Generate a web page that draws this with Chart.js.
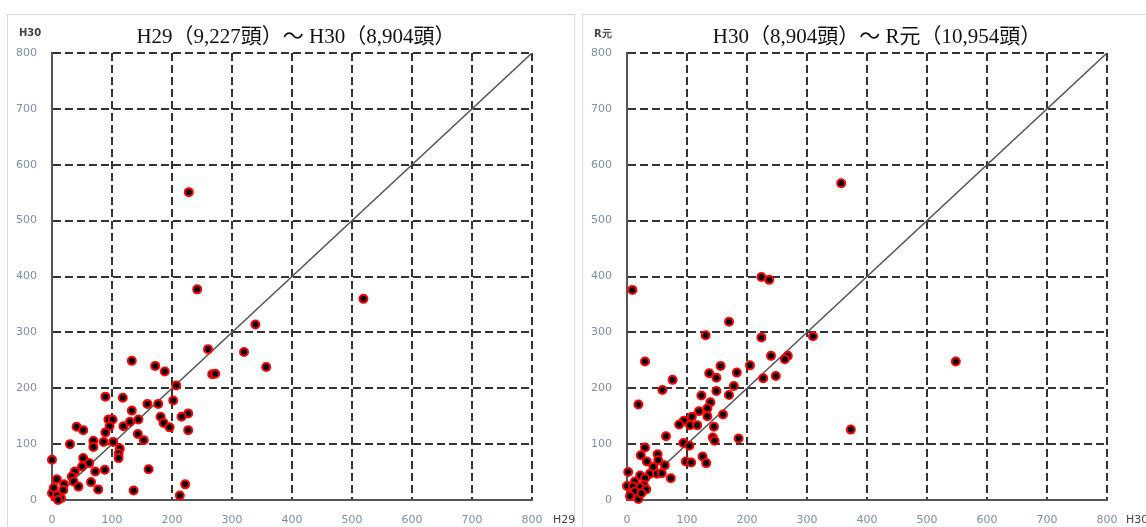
<!DOCTYPE html>
<html>
<head>
<meta charset="utf-8">
<script src="https://cdn.jsdelivr.net/npm/chart.js@4/dist/chart.umd.min.js"></script>
<style>
  html, body { margin: 0; padding: 0; background: #fff; width: 1146px; height: 527px; overflow: hidden; }
  .panel { position: absolute; top: 14px; height: 540px; border: 1px solid #d9d9d9; box-sizing: border-box; z-index: 0; }
  #p1 { left: 7px; width: 568px; }
  #p2 { left: 582px; width: 600px; }
  canvas { position: absolute; top: 0; z-index: 1; }
  #c1 { left: 0; }
  #c2 { left: 573px; }
  .title { position: absolute; top: 25px; line-height: 22px; font-family: "Liberation Serif", "Noto Sans CJK JP", serif;
           font-size: 21px; color: #111; white-space: nowrap; transform: translateX(-50%); z-index: 2; }
  .cap { position: absolute; font-family: "DejaVu Sans", sans-serif; color: #444; white-space: nowrap; z-index: 2; }
  .cap.top { font-size: 10px; font-weight: bold; top: 27px; }
  .cap.bottom { font-size: 11px; top: 513px; }
</style>
</head>
<body>
<div class="panel" id="p1"></div>
<div class="panel" id="p2"></div>
<canvas id="c1" width="573" height="527"></canvas>
<canvas id="c2" width="573" height="527"></canvas>
<div class="title" id="t1" style="left:296px"></div>
<div class="title" id="t2" style="left:877px"></div>
<div class="cap top" id="ya1" style="left:19px"></div>
<div class="cap bottom" id="xa1" style="left:553px"></div>
<div class="cap top" id="ya2" style="left:594px"></div>
<div class="cap bottom" id="xa2" style="left:1126px"></div>
<script>
// Headcount per area: previous year (x) vs. following year (y)
const titles = ['H29（9,227頭）～ H30（8,904頭）', 'H30（8,904頭）～ R元（10,954頭）'];
const xAxisNames = ['H29', 'H30'];
const yAxisNames = ['H30', 'R元'];
const tickValues = [0, 100, 200, 300, 400, 500, 600, 700, 800];
const diagonal = [{ x: 0, y: 0 }, { x: 800, y: 800 }];

// H29 → H30
const h29 = [228, 242, 339, 320, 357, 519, 260, 133, 172, 188, 267, 272, 207, 89, 118, 202, 159, 177, 133, 227,
             216, 181, 94, 101, 144, 130, 41, 52, 119, 96, 186, 196, 227, 89, 143, 153, 161, 222, 213, 136,
             0, 30, 69, 69, 86, 102, 113, 111, 111, 52, 62, 50, 88, 38, 72, 33, 8, 36, 65, 20,
             44, 77, 2, 19, 5, 15, 0, 3, 8, 10];
const h30a = [551, 377, 314, 265, 238, 360, 270, 249, 240, 230, 225, 226, 205, 185, 183, 178, 172, 172, 160, 155,
              149, 149, 144, 144, 144, 140, 131, 125, 132, 132, 138, 130, 125, 121, 118, 107, 55, 28, 8, 17,
              72, 100, 106, 95, 104, 104, 92, 83, 75, 75, 66, 60, 54, 51, 51, 42, 37, 33, 32, 28,
              24, 19, 15, 18, 6, 3, 12, 22, 8, 0];

// H30 → R元
const h30b = [131, 224, 310, 357, 224, 237, 170, 9, 30, 548, 373, 240, 268, 263, 205, 156, 137, 149, 183, 76,
              227, 248, 59, 178, 149, 170, 124, 139, 19, 134, 120, 108, 134, 160, 95, 87, 105, 117, 145, 65,
              143, 146, 186, 94, 104, 126, 132, 30, 23, 51, 98, 107, 33, 52, 44, 63, 2, 38, 50, 58,
              73, 22, 30, 13, 28, 0, 10, 22, 32, 8, 13, 5, 19, 24];
const r1 = [295, 291, 293, 567, 399, 394, 319, 376, 248, 248, 126, 258, 258, 252, 241, 240, 227, 219, 228, 215,
            218, 222, 197, 204, 195, 188, 187, 175, 171, 164, 159, 149, 150, 153, 142, 135, 134, 134, 131, 114,
            112, 106, 110, 102, 97, 78, 66, 94, 80, 82, 69, 67, 69, 71, 59, 62, 50, 47, 47, 48,
            39, 44, 39, 33, 27, 25, 24, 23, 19, 12, 15, 7, 2, 12];

const tickColor = '#7d8fa5';
const gridColor = '#333';
const axisColor = '#555';

function makeScale(isX, fitSize) {
  return {
    type: 'linear',
    min: 0,
    max: 800,
    afterBuildTicks: s => { s.ticks = tickValues.map(v => ({ value: v })); },
    afterFit: s => { if (isX) { s.height = fitSize; } else { s.width = fitSize; } },
    ticks: {
      color: tickColor,
      font: { family: 'DejaVu Sans', size: 11 },
      padding: isX ? 14 : 15,
      maxRotation: 0,
      autoSkip: false
    },
    grid: {
      color: c => (c.tick && c.tick.value === 0) ? 'rgba(0,0,0,0)' : gridColor,
      lineWidth: 2,
      drawTicks: false
    },
    border: {
      display: true,
      color: axisColor,
      width: 2,
      dash: c => (c.tick && c.tick.value === 0) ? [] : [8, 4]
    }
  };
}

function drawPanel(id, xs, ys, yAxisWidth, padRight) {
  const pts = xs.map((x, i) => ({ x: x, y: ys[i] }));
  return new Chart(document.getElementById(id), {
    type: 'scatter',
    data: {
      datasets: [
        { data: pts, backgroundColor: '#000', borderColor: '#ff0000', borderWidth: 2, pointRadius: 4,
          pointHoverRadius: 4, clip: false, order: 1 },
        { data: diagonal, showLine: true, borderColor: '#555', borderWidth: 1.5, pointRadius: 0, order: 2 }
      ]
    },
    options: {
      responsive: false,
      animation: false,
      devicePixelRatio: 1,
      layout: { padding: { left: 0, right: padRight, top: 53, bottom: 0 } },
      plugins: { legend: { display: false }, tooltip: { enabled: false }, title: { display: false } },
      scales: { x: makeScale(true, 27), y: makeScale(false, yAxisWidth) }
    }
  });
}

document.getElementById('t1').textContent = titles[0];
document.getElementById('t2').textContent = titles[1];
document.getElementById('ya1').textContent = yAxisNames[0];
document.getElementById('xa1').textContent = xAxisNames[0];
document.getElementById('ya2').textContent = yAxisNames[1];
document.getElementById('xa2').textContent = xAxisNames[1];

drawPanel('c1', h29, h30a, 52, 41);
drawPanel('c2', h30b, r1, 54, 39);
</script>
</body>
</html>
